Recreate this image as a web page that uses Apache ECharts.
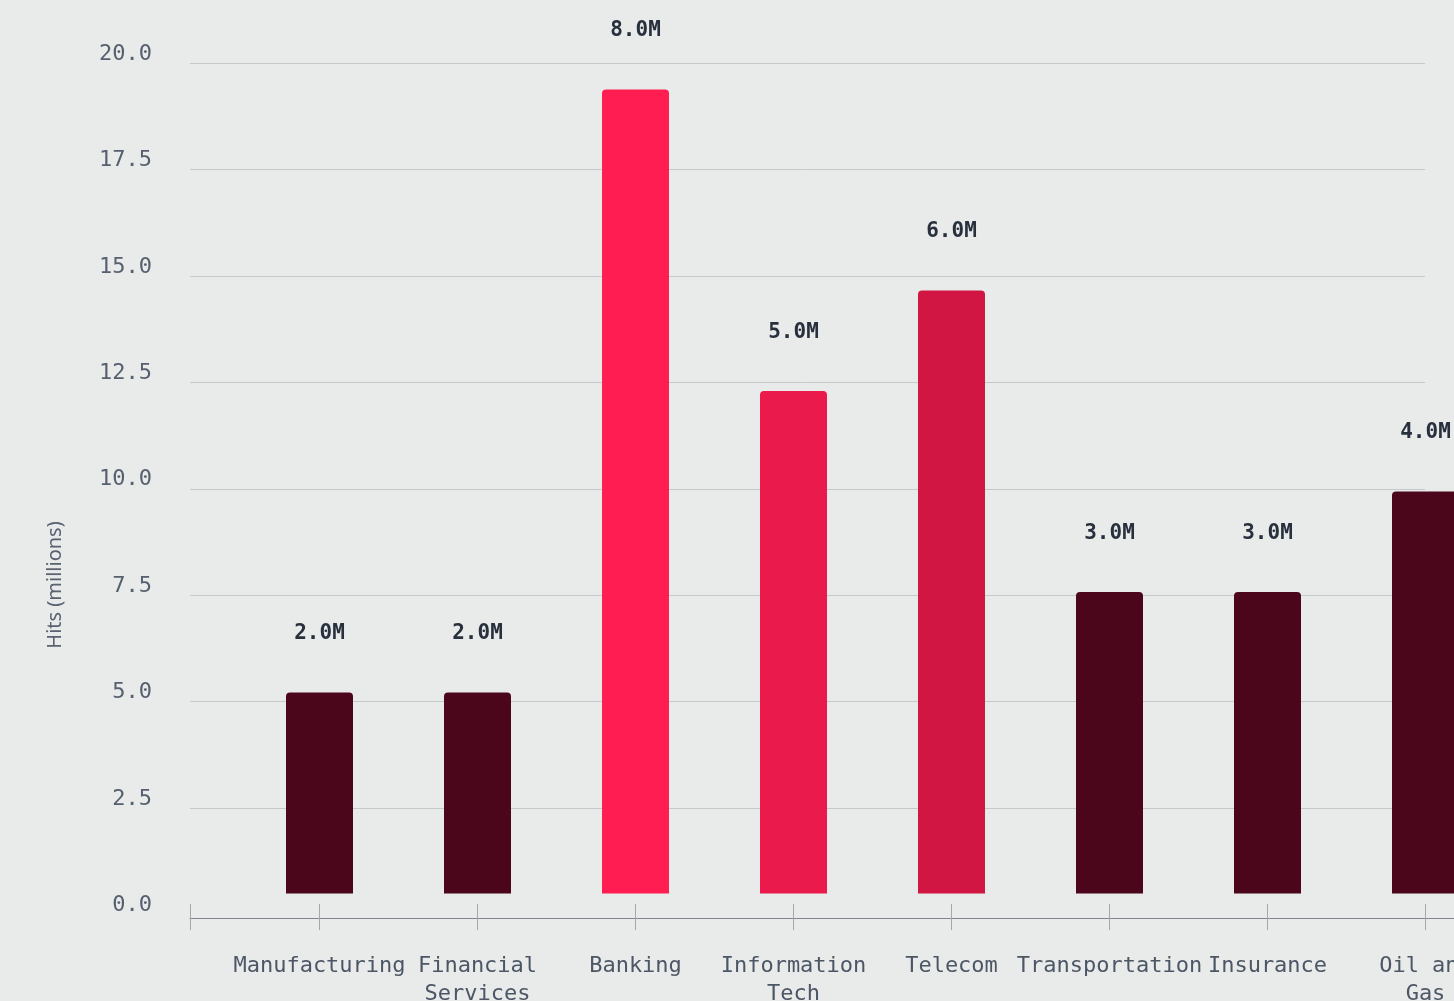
<!DOCTYPE html>
<html>
<head>
<meta charset="utf-8">
<script src="https://cdn.jsdelivr.net/npm/echarts@6/dist/echarts.min.js"></script>
<style>
html,body{margin:0;padding:0;background:#e9ebeb;}
#chart{width:1454px;height:1001px;}
</style>
</head>
<body>
<div id="chart"></div>
<script>
// ---- data ----
const categories = ['Manufacturing', 'Financial Services', 'Banking', 'Information Tech', 'Telecom', 'Transportation', 'Insurance', 'Oil and Gas'];
const hitsMillions = [2.0, 2.0, 8.0, 5.0, 6.0, 3.0, 3.0, 4.0];
const yTicks = [0, 2.5, 5, 7.5, 10, 12.5, 15, 17.5, 20];

// ---- styles ----
const barColors = ['#4b061c', '#4b061c', '#ff1d52', '#ea1a4c', '#d21643', '#4b061c', '#4b061c', '#4b061c'];
const mono = "'DejaVu Sans Mono', monospace";

const chart = echarts.init(document.getElementById('chart'), null, {renderer: 'canvas'});

chart.setOption({
  backgroundColor: '#e9ebeb',
  animation: false,
  grid: [
    // grid 0: visible value axis + gridlines
    {left: 190, right: 29, top: 63, bottom: 86.5, outerBoundsMode: 'none', containLabel: false},
    // grid 1: bars
    {left: 240.5, right: -50.5, top: 89.5, bottom: 107.5, outerBoundsMode: 'none', containLabel: false},
    // grid 2: baseline axis line
    {left: 190, right: -300, top: 63, bottom: 86.5, outerBoundsMode: 'none', containLabel: false}
  ],
  xAxis: [
    {
      gridIndex: 0, type: 'value', min: 0, max: 1, interval: 1,
      offset: -10.5,
      axisLine: {show: false, onZero: false},
      axisTick: {show: true, length: 26, lineStyle: {color: '#a3a8ae', width: 1}},
      axisLabel: {show: false},
      splitLine: {show: false}
    },
    {
      gridIndex: 1, type: 'category', data: categories,
      offset: 10.5,
      axisLine: {show: false, onZero: false},
      axisTick: {show: true, alignWithLabel: true, length: 26, lineStyle: {color: '#a3a8ae', width: 1}},
      axisLabel: {
        show: true, interval: 0, margin: 48,
        fontFamily: mono, fontSize: 22, color: '#4c5665', lineHeight: 28,
        formatter: v => v.replace(/ (\S+)$/, '\n$1')
      }
    },
    {
      gridIndex: 2, type: 'value', min: 0, max: 1,
      offset: 4,
      axisLine: {show: true, onZero: false, lineStyle: {color: '#7f8690', width: 1.2}},
      axisTick: {show: false},
      axisLabel: {show: false},
      splitLine: {show: false}
    }
  ],
  yAxis: [
    {
      gridIndex: 0, type: 'value', min: yTicks[0], max: yTicks[yTicks.length - 1], interval: 2.5,
      axisLine: {show: false},
      axisTick: {show: false},
      axisLabel: {
        show: true, margin: 38, fontFamily: mono, fontSize: 22, color: '#56606e',
        verticalAlign: 'bottom', lineHeight: 18,
        formatter: v => v.toFixed(1)
      },
      splitLine: {show: true, showMinLine: false, lineStyle: {color: '#c6c9cc', width: 1}}
    },
    {
      gridIndex: 1, type: 'value', min: 0, max: 8,
      show: false, splitLine: {show: false}
    },
    {
      gridIndex: 2, type: 'value', show: false, splitLine: {show: false}
    }
  ],
  graphic: [{
    type: 'text', x: 55, y: 585, rotation: Math.PI / 2,
    style: {
      text: 'Hits (millions)', fill: '#5a6270', font: "20px 'Noto Sans', sans-serif",
      align: 'center', verticalAlign: 'middle'
    }
  }],
  series: [{
    type: 'bar',
    xAxisIndex: 1, yAxisIndex: 1,
    barWidth: 67,
    data: hitsMillions.map((v, i) => ({value: v, itemStyle: {color: barColors[i]}})),
    itemStyle: {borderRadius: [4, 4, 0, 0]},
    label: {
      show: true, position: 'top', distance: 48,
      fontFamily: mono, fontSize: 21, fontWeight: 'bold', color: '#27303c',
      formatter: p => p.value.toFixed(1) + 'M'
    }
  }]
});
</script>
</body>
</html>
